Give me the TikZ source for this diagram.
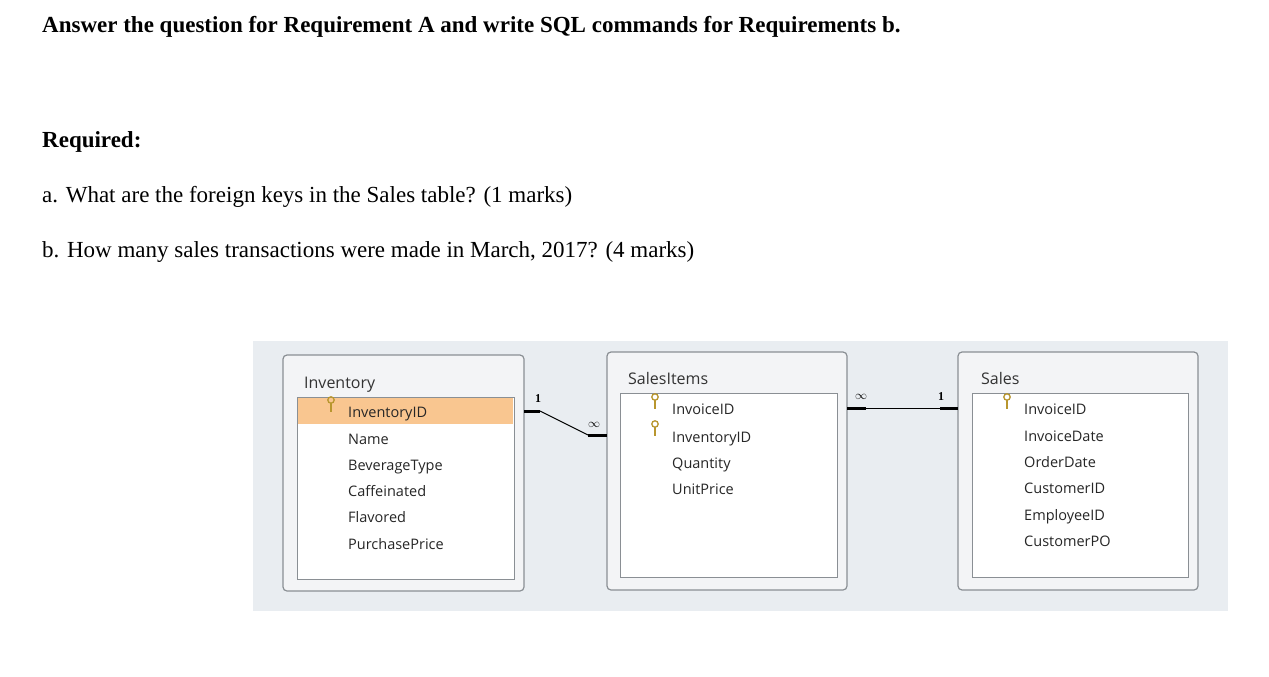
\documentclass[tikz,border=0pt]{standalone}
\usepackage{fontspec}
\setmainfont{Liberation Serif}
\newfontfamily\dfont{Open Sans}
\definecolor{bgg}{HTML}{E9EDF1}
\definecolor{boxg}{HTML}{F3F4F6}
\definecolor{edge}{HTML}{8A8F94}
\definecolor{hl}{HTML}{F9C690}
\definecolor{keyc}{HTML}{B8962E}
\tikzset{
 txt/.style={anchor=base west,inner sep=0,font=\fontsize{23}{26}\selectfont},
 btxt/.style={txt,font=\fontsize{23}{26}\selectfont\bfseries},
 fld/.style={anchor=base west,inner sep=0,font=\dfont\fontsize{14.5}{16}\selectfont,text=black!85},
 ttl/.style={anchor=base west,inner sep=0,font=\dfont\fontsize{16}{18}\selectfont,text=black!80},
 outer/.style={draw=edge,fill=boxg,rounded corners=4pt,line width=1.2pt},
 inner/.style={draw=edge,fill=white,line width=0.8pt},
 thk/.style={line width=3pt},
 thn/.style={line width=1pt},
 card/.style={inner sep=0,font=\bfseries\fontsize{12}{12}\selectfont}
}
\newcommand{\keyicon}[2]{\draw[keyc,line width=1.3pt] (#1,#2-4) circle (3.2); \draw[keyc,line width=1.6pt] (#1,#2-1)--(#1,#2+8);}
\begin{document}
\begin{tikzpicture}[x=1pt,y=-1pt]
\useasboundingbox (0,0) rectangle (1269,677);
\node[btxt] (t) at (42,33) {Answer the question for Requirement A and write SQL commands for Requirements b.};
\node[btxt] (r) at (42,147) {Required:};
\node[txt] (qa) at (42,202) {a. What are the foreign keys in the Sales table? (1 marks)};
\node[txt] (qb) at (42,257) {b. How many sales transactions were made in March, 2017? (4 marks)};
\fill[bgg] (253,341) rectangle (1228,611);
% Inventory
\draw[outer] (283,355) rectangle (524,591);
\draw[inner] (297,397) rectangle (514,579);
\fill[hl] (298,398) rectangle (513,424);
\node[ttl] (inv) at (304,388) {Inventory};
\keyicon{331}{404}
\node[fld] (i1) at (348,417) {InventoryID};
\node[fld] (i2) at (348,444) {Name};
\node[fld] (i3) at (348,470) {BeverageType};
\node[fld] (i4) at (348,496) {Caffeinated};
\node[fld] (i5) at (348,522) {Flavored};
\node[fld] (i6) at (348,549) {PurchasePrice};
% SalesItems
\draw[outer] (607,352) rectangle (847,590);
\draw[inner] (620,393) rectangle (837,577);
\node[ttl] (si) at (628,384) {SalesItems};
\keyicon{655}{401}
\keyicon{655}{428}
\node[fld] (s1) at (672,414) {InvoiceID};
\node[fld] (s2) at (672,442) {InventoryID};
\node[fld] (s3) at (672,468) {Quantity};
\node[fld] (s4) at (672,494) {UnitPrice};
% Sales
\draw[outer] (958,352) rectangle (1198,590);
\draw[inner] (972,393) rectangle (1188,577);
\node[ttl] (sa) at (981,384) {Sales};
\keyicon{1007}{401}
\node[fld] (a1) at (1024,414) {InvoiceID};
\node[fld] (a2) at (1024,441) {InvoiceDate};
\node[fld] (a3) at (1024,467) {OrderDate};
\node[fld] (a4) at (1024,493) {CustomerID};
\node[fld] (a5) at (1024,520) {EmployeeID};
\node[fld] (a6) at (1024,546) {CustomerPO};
% connectors
\coordinate (c1) at (524,411); \coordinate (c2) at (540,411);
\coordinate (c3) at (588,435); \coordinate (c4) at (607,435);
\draw[thk] (c1)--(c2); \draw[thn] (c2)--(c3); \draw[thk] (c3)--(c4);
\node[card] (n1) at (538,399) {1};
\node[card] (m1) at (594,425) {$\mathbf{\infty}$};
\coordinate (d1) at (847,408); \coordinate (d2) at (866,408);
\coordinate (d3) at (940,408); \coordinate (d4) at (958,408);
\draw[thk] (d1)--(d2); \draw[thn] (d2)--(d3); \draw[thk] (d3)--(d4);
\node[card] (m2) at (861,397) {$\mathbf{\infty}$};
\node[card] (n2) at (941,397) {1};
\end{tikzpicture}
\end{document}
